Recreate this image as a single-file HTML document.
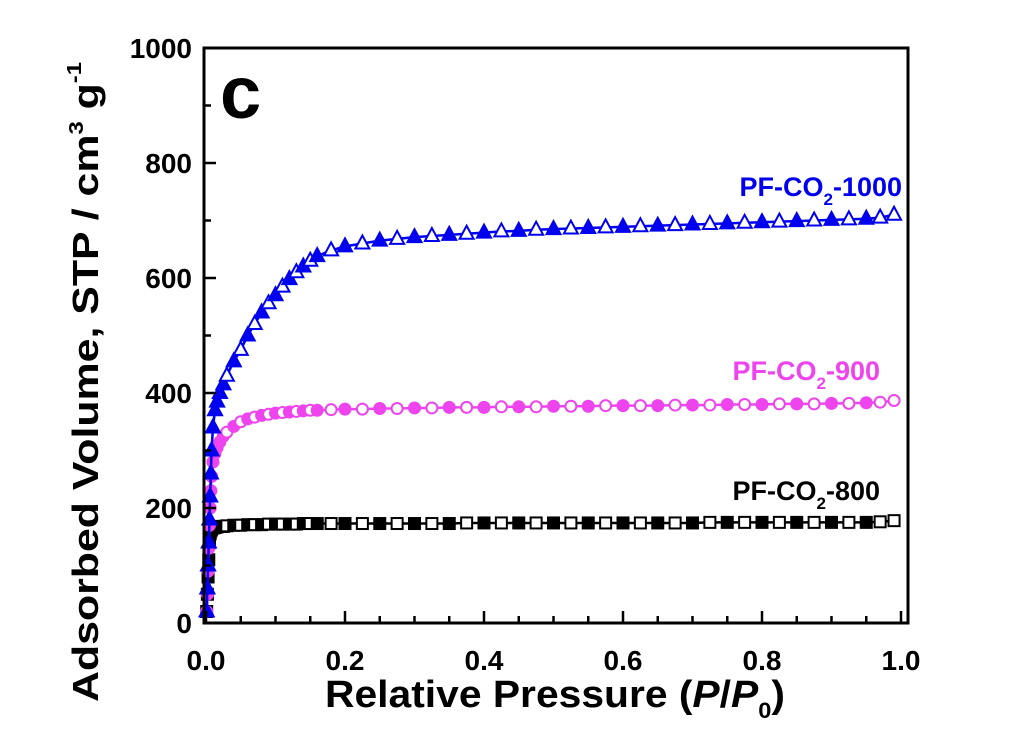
<!DOCTYPE html>
<html><head><meta charset="utf-8"><style>
body{margin:0;background:#fff}
svg{display:block;font-family:"Liberation Sans",Arial,sans-serif;font-weight:bold}
</style></head><body>
<svg id="chart" width="1012" height="738" viewBox="0 0 1012 738">
<rect x="0" y="0" width="1012" height="738" fill="#fff"/>
<g id="series"></g>
<rect x="204" y="48" width="704" height="575" fill="none" stroke="#000" stroke-width="3"/>
<g id="axes"></g>
<text x="220" y="118" font-size="74">c</text>
<text transform="translate(98,702) rotate(-90)" font-size="36" textLength="640" lengthAdjust="spacingAndGlyphs">Adsorbed Volume, STP / cm<tspan font-size="20" dy="-15">3</tspan><tspan dy="15"> g</tspan><tspan font-size="20" dy="-17">-1</tspan></text>
<text x="325" y="707" font-size="38" textLength="460" lengthAdjust="spacingAndGlyphs">Relative Pressure (<tspan font-style="italic">P</tspan>/<tspan font-style="italic">P</tspan><tspan font-size="22" dy="11">0</tspan><tspan dy="-11">)</tspan></text>
<text x="902" y="196" font-size="27" fill="#0000ee" text-anchor="end">PF-CO<tspan font-size="17" dy="9">2</tspan><tspan dy="-9">-1000</tspan></text>
<text x="880" y="380" font-size="27" fill="#ee44ee" text-anchor="end">PF-CO<tspan font-size="17" dy="9">2</tspan><tspan dy="-9">-900</tspan></text>
<text x="880" y="500" font-size="27" fill="#000" text-anchor="end">PF-CO<tspan font-size="17" dy="9">2</tspan><tspan dy="-9">-800</tspan></text>
</svg>
<script>
const pressure=[0.001,0.002,0.003,0.004,0.005,0.006,0.007,0.008,0.01,0.013,0.016,0.02,0.025,0.03,0.04,0.05,0.06,0.07,0.08,0.09,0.1,0.11,0.12,0.13,0.14,0.15,0.16,0.18,0.2,0.225,0.25,0.275,0.3,0.325,0.35,0.375,0.4,0.425,0.45,0.475,0.5,0.525,0.55,0.575,0.6,0.625,0.65,0.675,0.7,0.725,0.75,0.775,0.8,0.825,0.85,0.875,0.9,0.925,0.95,0.97,0.99];
const vol1000=[20,60,100,140,180,220,260,300,340,370,385,400,415,430,455,475,500,520,540,556,570,585,598,610,620,630,638,648,655,660,665,668,671,673,675,677,679,681,682,684,685,686,687,688,689,690,691,692,693,694,695,696,697,698,699,700,701,702,703,705,710];
const vol900=[20,50,90,130,170,200,230,255,280,295,305,315,325,332,342,350,355,358,361,363,365,366,367,368,369,370,370,371,372,372,373,373,374,374,375,375,375,376,376,376,377,377,377,378,378,378,378,379,379,379,380,380,380,381,381,381,382,382,383,384,387];
const vol800=[20,50,80,110,140,155,160,163,165,166,167,168,168,169,170,170,171,171,171,172,172,172,172,172,173,173,173,173,173,173,173,173,173,173,173,174,174,174,174,174,174,174,174,174,174,174,174,174,174,175,175,175,175,175,175,175,175,175,175,176,178];
const xTicks=[0,0.2,0.4,0.6,0.8,1.0];
const xTickLabels=["0.0","0.2","0.4","0.6","0.8","1.0"];
const yTicks=[0,200,400,600,800,1000];
const yTickLabels=["0","200","400","600","800","1000"];
const NS="http://www.w3.org/2000/svg";
const X=v=>206+695*v, Y=v=>623-0.575*v;
function mk(t,a,p){const e=document.createElementNS(NS,t);for(const k in a)e.setAttribute(k,a[k]);p.appendChild(e);return e;}
const axes=document.getElementById('axes'), ser=document.getElementById('series');
for(let v=0;v<=1.0001;v+=0.05){const big=Math.abs(v*5-Math.round(v*5))<1e-6;
 const t=mk('line',{x1:X(v),x2:X(v),y1:623,y2:623-(big?12:7),stroke:'#000','stroke-width':2.5},axes);
 
 }
for(let v=0;v<=1000;v+=100){const big=v%200===0;
 const t=mk('line',{x1:204,x2:204+(big?12:7),y1:Y(v),y2:Y(v),stroke:'#000','stroke-width':2.5},axes);
 
 }
xTicks.forEach((v,i)=>{const t=mk('text',{x:X(v),y:670,'font-size':28,'text-anchor':'middle'},axes);t.textContent=xTickLabels[i];
 
 });
yTicks.forEach((v,i)=>{const t=mk('text',{x:192,y:Y(v)+10,'font-size':28,'text-anchor':'end'},axes);t.textContent=yTickLabels[i];
 
 });
function draw(vals,color,shape,name){
 const g=mk('g',{},ser);
 
 
 mk('polyline',{points:pressure.map((p,i)=>X(p)+','+Y(vals[i])).join(' '),fill:'none',stroke:color,'stroke-width':2.5},g);
 pressure.forEach((p,i)=>{const cx=X(p),cy=Y(vals[i]);const filled=(i<12)||(i%2===0&&i<59);
  const st={fill:filled?color:'#fff',stroke:color,'stroke-width':2};let m;
  if(shape==='tri')m=mk('polygon',Object.assign({points:`${cx},${cy-8} ${cx-7},${cy+5} ${cx+7},${cy+5}`},st),g);
  else if(shape==='circ')m=mk('circle',Object.assign({cx:cx,cy:cy,r:5.5},st),g);
  else m=mk('rect',Object.assign({x:cx-5.5,y:cy-5.5,width:11,height:11},st),g);
  
  });
}
draw(vol800,'#000','sq','series-pf-co2-800');
draw(vol900,'#ee44ee','circ','series-pf-co2-900');
draw(vol1000,'#0000ee','tri','series-pf-co2-1000');
</script>
</body></html>
